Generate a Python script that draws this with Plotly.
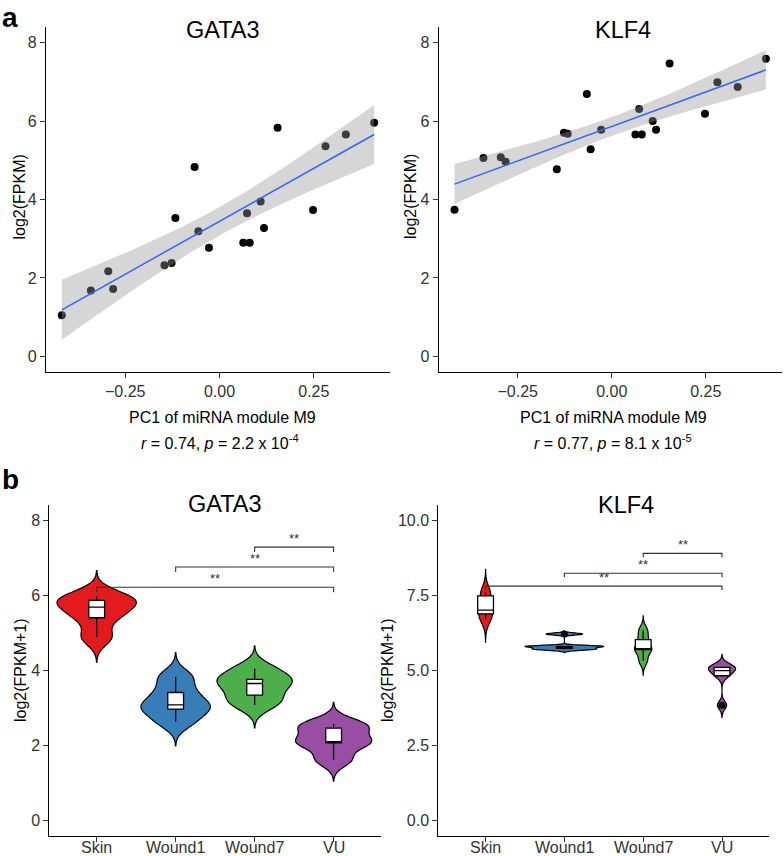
import numpy as np
import plotly.graph_objects as go

W, H = 784, 856
FONT = "Liberation Sans, Arial, Helvetica, sans-serif"

# ---------------- Panel a data (log2 FPKM vs PC1 of miRNA module M9) ----------------
pc1_m9 = [-0.418, -0.341, -0.295, -0.282, -0.146, -0.127, -0.117, -0.066, -0.056, -0.028,
          0.063, 0.080, 0.073, 0.109, 0.118, 0.154, 0.248, 0.281, 0.335, 0.410]
gata3_log2 = [1.05, 1.68, 2.17, 1.72, 2.32, 2.38, 3.53, 4.83, 3.19, 2.77,
              2.90, 2.90, 3.65, 3.95, 3.27, 5.83, 3.73, 5.36, 5.66, 5.96]
klf4_log2 = [3.74, 5.06, 5.08, 4.96, 4.77, 5.70, 5.68, 6.69, 5.28, 5.78,
             5.66, 5.66, 6.31, 6.00, 5.78, 7.47, 6.19, 6.99, 6.87, 7.59]
a_xticks = [-0.25, 0.0, 0.25]
a_xticklabels = ["\u22120.25", "0.00", "0.25"]
a_yticks = [0, 2, 4, 6, 8]
gata3_stats = "<i>r</i> = 0.74, <i>p</i> = 2.2 x 10<sup>-4</sup>"
klf4_stats = "<i>r</i> = 0.77, <i>p</i> = 8.1 x 10<sup>-5</sup>"

# ---------------- Panel b data (log2(FPKM+1) per group) ----------------
groups = ["Skin", "Wound1", "Wound7", "VU"]
group_colors = ["#E41A1C", "#377EB8", "#4DAF4A", "#984EA3"]
gata3_skin = [4.88, 5.40, 5.68, 5.86, 5.98]
gata3_wound1 = [2.63, 2.97, 3.08, 3.41, 3.83]
gata3_wound7 = [3.08, 3.34, 3.65, 3.76, 4.04]
gata3_vu = [1.62, 2.07, 2.10, 2.46, 2.58]
klf4_skin = [6.70, 6.88, 7.00, 7.48, 7.60]
klf4_wound1 = [5.69, 5.73, 5.80, 5.80, 6.21]
klf4_wound7 = [5.32, 5.69, 5.71, 6.02, 6.33]
klf4_vu = [3.84, 4.82, 4.99, 5.10, 5.12]
b_gata3_yticks = [0, 2, 4, 6, 8]
b_klf4_yticks = [0, 2.5, 5, 7.5, 10]
b_klf4_yticklabels = ["0.0", "2.5", "5.0", "7.5", "10.0"]
# significance comparisons (group pairs, bracket heights, label)
sig_pairs = [("Skin", "VU"), ("Wound1", "VU"), ("Wound7", "VU")]
sig_y_gata3 = [6.21, 6.75, 7.28]
sig_y_klf4 = [7.80, 8.23, 8.89]
sig_label = "**"

T_975_DF18 = 2.101  # t quantile for 95% CI with n-2 = 18 df
VIOLIN_MAX_WIDTH = 1.0


def px_x(p):
    return p / W


def px_y(p):
    return 1 - p / H


def nrd0(v):
    v = np.asarray(v, float)
    sd = v.std(ddof=1)
    q75, q25 = np.percentile(v, [75, 25])
    iqr = (q75 - q25) / 1.34
    lo = min(sd, iqr) if iqr > 0 else sd
    return 0.9 * lo * len(v) ** -0.2


def kde_peak(v, bw):
    v = np.asarray(v, float)
    grid = np.linspace(v.min() - 3 * bw, v.max() + 3 * bw, 512)
    d = np.exp(-0.5 * ((grid[:, None] - v[None, :]) / bw) ** 2).sum(axis=1)
    d /= (len(v) * bw * np.sqrt(2 * np.pi))
    return d.max()


fig = go.Figure()

# ---------------- Panel a: scatter + lm fit ----------------
def add_scatter_panel(xv, yv, xa, ya):
    x = np.asarray(xv, float)
    y = np.asarray(yv, float)
    fig.add_trace(go.Scatter(x=x, y=y, mode="markers",
                             marker=dict(color="black", size=8),
                             xaxis=xa, yaxis=ya, showlegend=False, hoverinfo="skip"))
    n = len(x)
    b1, b0 = np.polyfit(x, y, 1)
    resid = y - (b0 + b1 * x)
    s = np.sqrt(np.sum(resid ** 2) / (n - 2))
    sxx = np.sum((x - x.mean()) ** 2)
    xs = np.linspace(x.min(), x.max(), 80)
    pred = b0 + b1 * xs
    se = s * np.sqrt(1.0 / n + (xs - x.mean()) ** 2 / sxx)
    up = pred + T_975_DF18 * se
    lo = pred - T_975_DF18 * se
    fig.add_trace(go.Scatter(x=np.concatenate([xs, xs[::-1]]),
                             y=np.concatenate([up, lo[::-1]]),
                             fill="toself", fillcolor="rgba(153,153,153,0.4)",
                             line=dict(width=0), mode="lines",
                             xaxis=xa, yaxis=ya, showlegend=False, hoverinfo="skip"))
    fig.add_trace(go.Scatter(x=xs, y=pred, mode="lines",
                             line=dict(color="#3366FF", width=1.5),
                             xaxis=xa, yaxis=ya, showlegend=False, hoverinfo="skip"))


add_scatter_panel(pc1_m9, gata3_log2, "x", "y")
add_scatter_panel(pc1_m9, klf4_log2, "x2", "y2")

# ---------------- Panel b: violins + boxes ----------------
def add_violin_panel(data_lists, xa, ya, sig_y, tip):
    bws = [nrd0(v) for v in data_lists]
    peaks = [kde_peak(v, b) for v, b in zip(data_lists, bws)]
    pmax = max(peaks)
    for g, col, vals, bw, pk in zip(groups, group_colors, data_lists, bws, peaks):
        fig.add_trace(go.Violin(x=[g] * len(vals), y=vals, width=VIOLIN_MAX_WIDTH * pk / pmax,
                                fillcolor=col, line=dict(color="black", width=1.2),
                                opacity=1, points=False, bandwidth=bw,
                                spanmode="manual", span=[min(vals) - 3 * bw, max(vals) + 3 * bw],
                                scalemode="width", side="both",
                                xaxis=xa, yaxis=ya, showlegend=False, hoverinfo="skip"))
    for g, vals in zip(groups, data_lists):
        fig.add_trace(go.Box(x=[g] * len(vals), y=vals, width=0.2, fillcolor="white",
                             line=dict(color="black", width=1.3), whiskerwidth=0,
                             boxpoints="outliers", jitter=0, pointpos=0,
                             quartilemethod="inclusive",
                             marker=dict(color="black", size=7),
                             xaxis=xa, yaxis=ya, showlegend=False, hoverinfo="skip"))
    for (g1, g2), yy in zip(sig_pairs, sig_y):
        fig.add_trace(go.Scatter(x=[g1, g1, g2, g2], y=[yy - tip, yy, yy, yy - tip],
                                 mode="lines", line=dict(color="#333333", width=1.1),
                                 xaxis=xa, yaxis=ya, showlegend=False, hoverinfo="skip"))
        xc = (groups.index(g1) + groups.index(g2)) / 2
        fig.add_annotation(x=xc, y=yy, xref=xa, yref=ya, text=sig_label, showarrow=False,
                           yanchor="bottom", yshift=-1,
                           font=dict(family=FONT, size=13, color="#333333"))
    # category tick labels, set as text just under the tick marks
    for g in groups:
        fig.add_annotation(x=g, y=px_y(847), xref=xa, yref="paper", text=g,
                           showarrow=False, yanchor="middle",
                           font=dict(family=FONT, size=16, color="#333333"))


add_violin_panel([gata3_skin, gata3_wound1, gata3_wound7, gata3_vu], "x3", "y3", sig_y_gata3, 0.13)
add_violin_panel([klf4_skin, klf4_wound1, klf4_wound7, klf4_vu], "x4", "y4", sig_y_klf4, 0.13)

# ---------------- Axes ----------------
axis_common = dict(showline=True, linecolor="black", linewidth=1.1, ticks="outside",
                   ticklen=5, tickwidth=1.1, tickcolor="#333333", showgrid=False,
                   zeroline=False, mirror=False,
                   tickfont=dict(family=FONT, size=16, color="#333333"))

ya_dom = [px_y(372), px_y(27)]
yb_dom = [px_y(835.7), px_y(505)]

fig.update_layout(
    width=W, height=H, margin=dict(l=0, r=0, t=0, b=0),
    paper_bgcolor="white", plot_bgcolor="white", showlegend=False,
    violinmode="overlay", boxmode="overlay",
    xaxis=dict(domain=[px_x(46), px_x(390)], anchor="y", range=[-0.46, 0.452],
               tickvals=a_xticks, ticktext=a_xticklabels, **axis_common),
    yaxis=dict(domain=ya_dom, anchor="x", range=[-0.4, 8.4], tickvals=a_yticks, **axis_common),
    xaxis2=dict(domain=[px_x(438.7), px_x(781.7)], anchor="y2", range=[-0.46, 0.452],
                tickvals=a_xticks, ticktext=a_xticklabels, **axis_common),
    yaxis2=dict(domain=ya_dom, anchor="x2", range=[-0.4, 8.4], tickvals=a_yticks, **axis_common),
    xaxis3=dict(domain=[px_x(49.3), px_x(381)], anchor="y3", type="category",
                categoryorder="array", categoryarray=groups, range=[-0.6, 3.6],
                showticklabels=False, **axis_common),
    yaxis3=dict(domain=yb_dom, anchor="x3", range=[-0.4, 8.4], tickvals=b_gata3_yticks, **axis_common),
    xaxis4=dict(domain=[px_x(438.3), px_x(769.3)], anchor="y4", type="category",
                categoryorder="array", categoryarray=groups, range=[-0.6, 3.6],
                showticklabels=False, **axis_common),
    yaxis4=dict(domain=yb_dom, anchor="x4", range=[-0.5, 10.5], tickvals=b_klf4_yticks,
                ticktext=b_klf4_yticklabels, **axis_common),
)

# ---------------- Text annotations ----------------
def txt(text, x, y, size, angle=0, bold=False, color="black", xanchor="center", yanchor="middle"):
    fig.add_annotation(x=px_x(x), y=px_y(y), xref="paper", yref="paper", text=text,
                       showarrow=False, textangle=angle, xanchor=xanchor, yanchor=yanchor,
                       font=dict(family=FONT, size=size, color=color,
                                 weight="bold" if bold else "normal"))


txt("a", 0, 0, 28, bold=True, xanchor="left", yanchor="top")
txt("b", 0, 479, 28, bold=True, xanchor="left")
txt("GATA3", 223, 30, 23.5)
txt("KLF4", 623, 30, 23.5)
txt("GATA3", 225, 504, 23.5)
txt("KLF4", 626, 505, 23.5)
txt("log2(FPKM)", 18.5, 197, 16, angle=-90)
txt("log2(FPKM)", 410, 197, 16, angle=-90)
txt("log2(FPKM+1)", 20, 670, 16, angle=-90)
txt("log2(FPKM+1)", 387, 670, 16, angle=-90)
txt("PC1 of miRNA module M9", 222, 417.5, 16)
txt("PC1 of miRNA module M9", 613, 417.5, 16)
txt(gata3_stats, 220, 441.5, 16)
txt(klf4_stats, 613, 441.5, 16)

# remove the browser's default page margin so the 784x856 figure fills the window exactly
fig.write_html("out.html", config={"displayModeBar": False},
               post_script="document.body.style.margin='0px';document.body.style.overflow='hidden';")
